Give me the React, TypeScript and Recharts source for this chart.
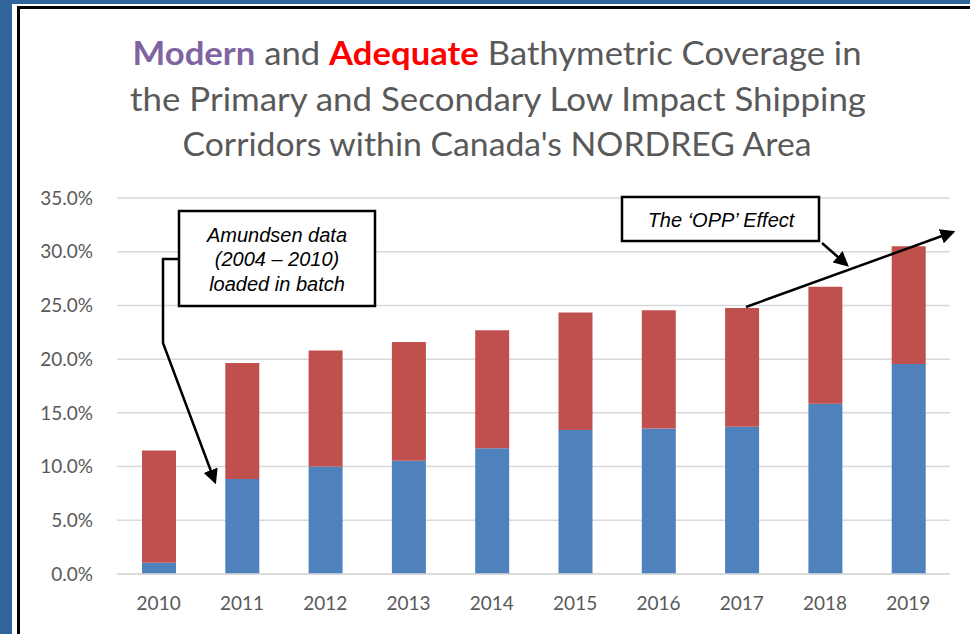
import { BarChart, Bar, XAxis, YAxis, CartesianGrid } from 'recharts'

const years = ['2010', '2011', '2012', '2013', '2014', '2015', '2016', '2017', '2018', '2019']
const modern = [1.05, 8.85, 10.0, 10.55, 11.7, 13.4, 13.55, 13.7, 15.85, 19.55]
const adequate = [10.45, 10.8, 10.8, 11.05, 11.0, 10.95, 11.0, 11.05, 10.9, 10.95]
const yTicks = [0, 5, 10, 15, 20, 25, 30, 35]

const data = years.map((year, i) => ({ year, modern: modern[i], adequate: adequate[i] }))

const tickStyle = { fontSize: 19, fill: '#595959', fontFamily: 'Lato' }

export default function App() {
  return (
    <div
      style={{
        position: 'absolute',
        left: 0,
        top: 0,
        width: 970,
        height: 634,
        overflow: 'hidden',
        background: '#2F6599',
      }}
    >
      <div style={{ position: 'absolute', left: 12, top: 4, width: 980, height: 650, background: '#fff' }} />
      <div
        style={{
          position: 'absolute',
          left: 17,
          top: 6,
          width: 980,
          height: 650,
          border: '3px solid #000',
          background: '#fff',
        }}
      />
      <div style={{ position: 'absolute', left: 0, top: 0 }}>
        <BarChart
          width={970}
          height={634}
          data={data}
          margin={{ top: 198, right: 20, bottom: 30, left: 0 }}
          barSize={34}
        >
          <CartesianGrid vertical={false} stroke="#D9D9D9" strokeWidth={1.5} />
          <XAxis
            dataKey="year"
            tickLine={false}
            axisLine={{ stroke: '#D9D9D9', strokeWidth: 1.5 }}
            tick={tickStyle}
            tickMargin={17}
          />
          <YAxis
            width={117}
            domain={[0, 35]}
            ticks={yTicks}
            tickFormatter={(v: number) => v.toFixed(1) + '%'}
            axisLine={false}
            tickLine={false}
            tick={tickStyle}
            tickMargin={18}
          />
          <Bar dataKey="modern" stackId="a" fill="#4F81BD" isAnimationActive={false} />
          <Bar dataKey="adequate" stackId="a" fill="#C0504D" isAnimationActive={false} />
        </BarChart>
      </div>
      <svg
        width={970}
        height={634}
        style={{ position: 'absolute', left: 0, top: 0, pointerEvents: 'none' }}
      >
        <defs>
          <marker id="arrow" markerWidth="6" markerHeight="6" refX="5" refY="3" orient="auto" markerUnits="strokeWidth">
            <path d="M0,0 L6,3 L0,6 Z" fill="#000" />
          </marker>
        </defs>
        <g fontFamily="Lato" fontSize={32} fill="#595959" textAnchor="middle">
          <text x={497} y={65} textLength={729} lengthAdjust="spacingAndGlyphs">
            <tspan fill="#8064A2" fontWeight="bold">Modern</tspan> and{' '}
            <tspan fill="#FF0000" fontWeight="bold">Adequate</tspan> Bathymetric Coverage in
          </text>
          <text x={498} y={111} textLength={736} lengthAdjust="spacingAndGlyphs">
            the Primary and Secondary Low Impact Shipping
          </text>
          <text x={497} y={156} textLength={629} lengthAdjust="spacingAndGlyphs">
            Corridors within Canada's NORDREG Area
          </text>
        </g>
        <g fill="none" stroke="#000" strokeWidth={2.5}>
          <path d="M178 259 L163 259 L163 343 L215 482" markerEnd="url(#arrow)" />
          <path d="M822 243 L847 265" markerEnd="url(#arrow)" />
          <path d="M746 307 L953 232" markerEnd="url(#arrow)" />
        </g>
        <rect x={179} y={211} width={196} height={95} fill="#fff" stroke="#000" strokeWidth={2.5} />
        <rect x={622} y={197} width={197} height={44} fill="#fff" stroke="#000" strokeWidth={2.5} />
        <g fontFamily="Liberation Sans" fontStyle="italic" fontSize={20} fill="#000" textAnchor="middle">
          <text x={277} y={242}>Amundsen data</text>
          <text x={277} y={266}>(2004 – 2010)</text>
          <text x={277} y={291}>loaded in batch</text>
          <text x={721} y={227}>The ‘OPP’ Effect</text>
        </g>
      </svg>
    </div>
  )
}
